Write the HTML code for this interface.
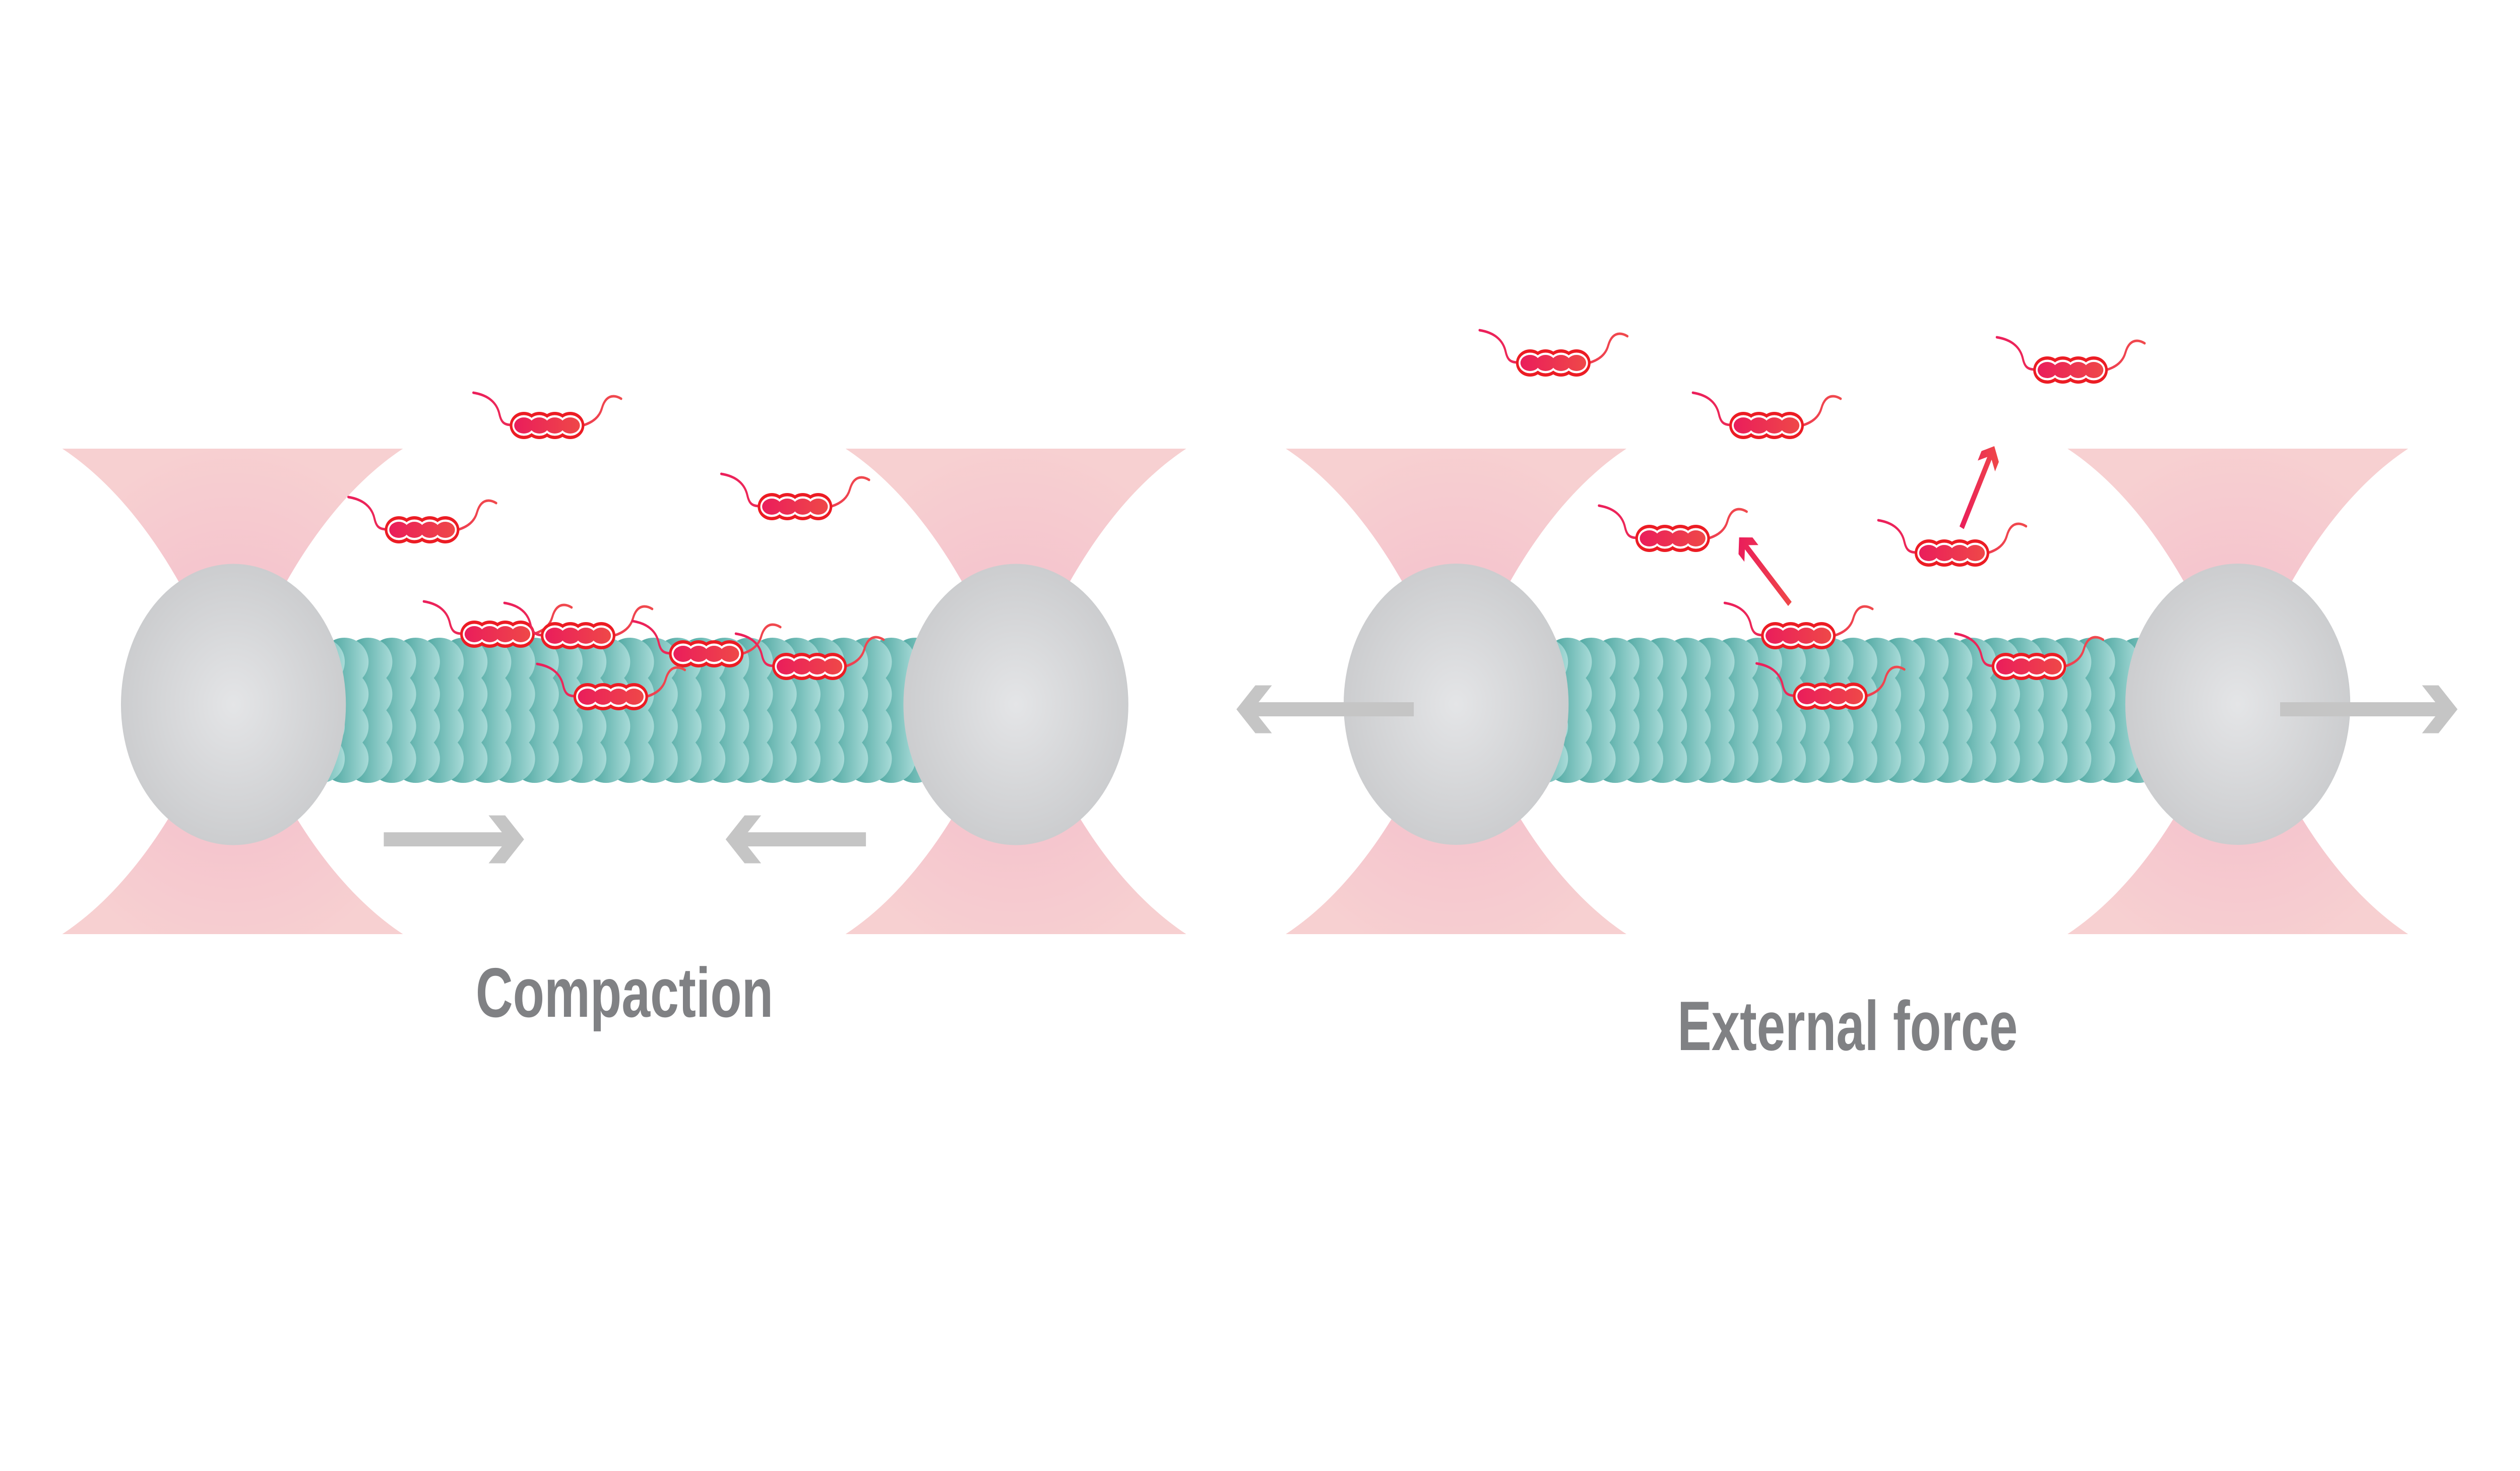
<!DOCTYPE html>
<html>
<head>
<meta charset="utf-8">
<style>
  html, body { margin: 0; padding: 0; background: #ffffff; width: 100%; height: 100%; overflow: hidden; }
  svg { display: block; position: absolute; left: 0; top: 0; width: 100vw; height: 100vh; }
</style>
</head>
<body>
<svg viewBox="0 0 6251 2918" preserveAspectRatio="none" xmlns="http://www.w3.org/2000/svg">
  <defs>
    <radialGradient id="coneg" gradientUnits="userSpaceOnUse" cx="0" cy="26" r="520">
      <stop offset="0" stop-color="#f3bccb"/>
      <stop offset="0.55" stop-color="#f5c6ce"/>
      <stop offset="1" stop-color="#f7d0d1"/>
    </radialGradient>
    <radialGradient id="beadg" cx="0.5" cy="0.5" r="0.5">
      <stop offset="0" stop-color="#e4e5e7"/>
      <stop offset="1" stop-color="#cccdcf"/>
    </radialGradient>
    <linearGradient id="teal" x1="0" y1="0" x2="1" y2="0">
      <stop offset="0" stop-color="#4fa7a1"/>
      <stop offset="0.3" stop-color="#58ada7"/>
      <stop offset="1" stop-color="#a8dbd8"/>
    </linearGradient>
    <linearGradient id="capg" gradientUnits="userSpaceOnUse" x1="-82" y1="0" x2="82" y2="0">
      <stop offset="0" stop-color="#ea1d5b"/>
      <stop offset="1" stop-color="#ef4848"/>
    </linearGradient>
    <linearGradient id="tailg" gradientUnits="userSpaceOnUse" x1="-185" y1="0" x2="185" y2="0">
      <stop offset="0" stop-color="#eb1f5b"/>
      <stop offset="1" stop-color="#f04a4d"/>
    </linearGradient>
    <linearGradient id="redarr" x1="0" y1="0" x2="1" y2="0">
      <stop offset="0" stop-color="#ea1d5b"/>
      <stop offset="1" stop-color="#ef4848"/>
    </linearGradient>

    <path id="cone" fill="url(#coneg)" d="M-422.5,-481.5 C-308.5,-421.5 -211.5,-326.5 -136.5,-221.5 C-89.5,-156.5 -76.5,-71.5 -76.5,0 C-76.5,71.5 -89.5,156.5 -136.5,221.5 C-211.5,326.5 -308.5,421.5 -422.5,481.5 L422.5,481.5 C308.5,421.5 211.5,326.5 136.5,221.5 C89.5,156.5 76.5,71.5 76.5,0 C76.5,-71.5 89.5,-156.5 136.5,-221.5 C211.5,-326.5 308.5,-421.5 422.5,-481.5 Z"/>

    <g id="col">
      <ellipse cx="-60" cy="1313" rx="60" ry="48" fill="url(#teal)"/>
      <ellipse cx="-60" cy="1377" rx="60" ry="48" fill="url(#teal)"/>
      <ellipse cx="-60" cy="1441" rx="60" ry="48" fill="url(#teal)"/>
      <ellipse cx="-60" cy="1505" rx="60" ry="48" fill="url(#teal)"/>
    </g>

    <g id="prot">
      <path d="M-88,-1 C-108,-1 -114,-8 -118,-22 C-124,-44 -144,-60 -183,-65" fill="none" stroke="url(#tailg)" stroke-width="5" stroke-linecap="round"/>
      <path d="M88,0 C114,-6 130,-17 136,-34 C142,-51 152,-58 165,-58 C172,-58 178,-56 184,-53" fill="none" stroke="url(#tailg)" stroke-width="5" stroke-linecap="round"/>
      <g fill="#ec1c24">
        <ellipse cx="-57.5" cy="0" rx="35" ry="27"/>
        <ellipse cx="-19.2" cy="0" rx="35" ry="27"/>
        <ellipse cx="19.2" cy="0" rx="35" ry="27"/>
        <ellipse cx="57.5" cy="0" rx="35" ry="27"/>
      </g>
      <g fill="#ffffff">
        <ellipse cx="-57.5" cy="0" rx="28.5" ry="20.5"/>
        <ellipse cx="-19.2" cy="0" rx="28.5" ry="20.5"/>
        <ellipse cx="19.2" cy="0" rx="28.5" ry="20.5"/>
        <ellipse cx="57.5" cy="0" rx="28.5" ry="20.5"/>
      </g>
      <g fill="url(#capg)">
        <ellipse cx="-57.5" cy="0" rx="24" ry="16"/>
        <ellipse cx="-19.2" cy="0" rx="24" ry="16"/>
        <ellipse cx="19.2" cy="0" rx="24" ry="16"/>
        <ellipse cx="57.5" cy="0" rx="24" ry="16"/>
      </g>
    </g>
  </defs>

  <rect x="0" y="0" width="6251" height="2918" fill="#ffffff"/>

  <!-- ============ LEFT PANEL: Compaction ============ -->
  <use href="#cone" transform="translate(577,1371.5)"/>
  <use href="#cone" transform="translate(2520,1371.5)"/>

  <g>
    <use href="#col" x="2330.3"/>
    <use href="#col" x="2271.3"/>
    <use href="#col" x="2212.3"/>
    <use href="#col" x="2153.3"/>
    <use href="#col" x="2094.3"/>
    <use href="#col" x="2035.3"/>
    <use href="#col" x="1976.3"/>
    <use href="#col" x="1917.3"/>
    <use href="#col" x="1858.3"/>
    <use href="#col" x="1799.3"/>
    <use href="#col" x="1740.3"/>
    <use href="#col" x="1681.3"/>
    <use href="#col" x="1622.3"/>
    <use href="#col" x="1563.3"/>
    <use href="#col" x="1504.3"/>
    <use href="#col" x="1445.3"/>
    <use href="#col" x="1386.3"/>
    <use href="#col" x="1327.3"/>
    <use href="#col" x="1268.3"/>
    <use href="#col" x="1209.3"/>
    <use href="#col" x="1150.3"/>
    <use href="#col" x="1091.3"/>
    <use href="#col" x="1032.3"/>
    <use href="#col" x="973.3"/>
    <use href="#col" x="914.3"/>
    <use href="#col" x="855.3"/>
    <use href="#col" x="796.3"/>
  </g>

  <circle cx="579" cy="1397.5" r="279" fill="url(#beadg)"/>
  <circle cx="2520" cy="1397.5" r="279" fill="url(#beadg)"/>

  <use href="#prot" transform="translate(1357,844)"/>
  <use href="#prot" transform="translate(1047,1051)"/>
  <use href="#prot" transform="translate(1972,1005)"/>
  <use href="#prot" transform="translate(1234,1258)"/>
  <use href="#prot" transform="translate(1434,1261)"/>
  <use href="#prot" transform="translate(1752,1297)"/>
  <use href="#prot" transform="translate(2008,1322)"/>
  <use href="#prot" transform="translate(1515,1382)"/>

  <polygon fill="#c5c5c5" points="952,1651 1245,1651 1212,1617.5 1253,1617.5 1300,1665 1253,1712.5 1212,1712.5 1245,1679 952,1679"/>
  <polygon fill="#c5c5c5" points="2148,1651 1855,1651 1888,1617.5 1847,1617.5 1800,1665 1847,1712.5 1888,1712.5 1855,1679 2148,1679"/>

  <text x="1180" y="2017" font-family="'Liberation Sans', Arial, sans-serif" font-weight="700" font-size="139" fill="#808184" textLength="738" lengthAdjust="spacingAndGlyphs">Compaction</text>

  <!-- ============ RIGHT PANEL: External force ============ -->
  <use href="#cone" transform="translate(3612,1371.5)"/>
  <use href="#cone" transform="translate(5551,1371.5)"/>

  <g>
    <use href="#col" x="5364.7"/>
    <use href="#col" x="5305.7"/>
    <use href="#col" x="5246.7"/>
    <use href="#col" x="5187.7"/>
    <use href="#col" x="5128.7"/>
    <use href="#col" x="5069.7"/>
    <use href="#col" x="5010.7"/>
    <use href="#col" x="4951.7"/>
    <use href="#col" x="4892.7"/>
    <use href="#col" x="4833.7"/>
    <use href="#col" x="4774.7"/>
    <use href="#col" x="4715.7"/>
    <use href="#col" x="4656.7"/>
    <use href="#col" x="4597.7"/>
    <use href="#col" x="4538.7"/>
    <use href="#col" x="4479.7"/>
    <use href="#col" x="4420.7"/>
    <use href="#col" x="4361.7"/>
    <use href="#col" x="4302.7"/>
    <use href="#col" x="4243.7"/>
    <use href="#col" x="4184.7"/>
    <use href="#col" x="4125.7"/>
    <use href="#col" x="4066.7"/>
    <use href="#col" x="4007.7"/>
    <use href="#col" x="3948.7"/>
    <use href="#col" x="3889.7"/>
    <use href="#col" x="3830.7"/>
    <use href="#col" x="3771.7"/>
  </g>

  <circle cx="3612" cy="1397" r="279" fill="url(#beadg)"/>
  <circle cx="5551" cy="1397" r="279" fill="url(#beadg)"/>

  <use href="#prot" transform="translate(3853,720)"/>
  <use href="#prot" transform="translate(4382,844)"/>
  <use href="#prot" transform="translate(5136,734)"/>
  <use href="#prot" transform="translate(4149,1068)"/>
  <use href="#prot" transform="translate(4842,1097)"/>
  <use href="#prot" transform="translate(4461,1261)"/>
  <use href="#prot" transform="translate(5033,1322)"/>
  <use href="#prot" transform="translate(4540,1381)"/>

  <polygon fill="url(#redarr)" points="4314,1066 4312.5,1099.2 4327,1114.4 4328.3,1089.7 4435.7,1202.1 4444.3,1193.9 4337,1081.4 4361.7,1081.3 4347.2,1066.1"/>
  <polygon fill="url(#redarr)" points="4947,885 4915.2,894.8 4905.9,913.6 4929.6,906.5 4860.7,1044.2 4871.4,1049.6 4940.3,911.8 4948.8,935.1 4958.2,916.3"/>

  <polygon fill="#c5c5c5" points="3507,1393 3122,1393 3155,1359.5 3114,1359.5 3067,1407 3114,1454.5 3155,1454.5 3122,1421 3507,1421"/>
  <polygon fill="#c5c5c5" points="5656,1393 6041,1393 6008,1359.5 6049,1359.5 6096,1407 6049,1454.5 6008,1454.5 6041,1421 5656,1421"/>

  <text x="4161" y="2083" font-family="'Liberation Sans', Arial, sans-serif" font-weight="700" font-size="139" fill="#808184" textLength="844" lengthAdjust="spacingAndGlyphs">External force</text>
</svg>
</body>
</html>
